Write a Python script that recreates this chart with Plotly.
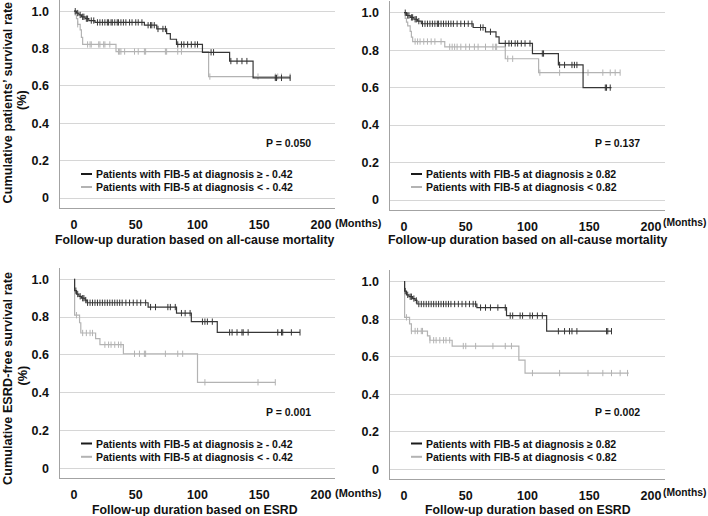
import numpy as np
import plotly.graph_objects as go

# ---------------- data ----------------
# Panel A: all-cause mortality, FIB-5 cut-off -0.42
a_hi_t = [0, 2, 4, 6, 9, 12, 17, 57, 67, 75, 78, 83, 104, 126, 145]
a_hi_s = [1.0, 0.99, 0.98, 0.97, 0.96, 0.95, 0.94, 0.925, 0.905, 0.88, 0.85, 0.822, 0.78, 0.733, 0.643]
a_hi_end = 175
a_hi_c = [1, 3, 5, 7, 8, 10, 11, 14, 16, 19, 21, 23, 25, 27, 28, 30, 31, 33, 35, 36, 38, 40, 42, 45,
          47, 50, 52, 55, 60, 62, 63, 65, 68, 72, 74, 84, 87, 89, 92, 95, 98, 100, 111, 113,
          127, 132, 136, 140, 163, 164, 168, 175]
a_lo_t = [0, 1, 2, 3, 5, 6, 7, 34, 109]
a_lo_s = [1.0, 0.98, 0.96, 0.93, 0.90, 0.86, 0.822, 0.784, 0.65]
a_lo_end = 175
a_lo_c = [3, 11, 13, 14, 20, 21, 24, 25, 29, 36, 37, 38, 41, 49, 52, 57, 58, 74, 75, 84, 87,
          110, 149, 163, 165, 168, 175]

# Panel B: all-cause mortality, FIB-5 cut-off 0.82
b_hi_t = [0, 2, 5, 8, 11, 14, 56, 66, 74.5, 77, 104, 125, 145]
b_hi_s = [1.0, 0.985, 0.975, 0.965, 0.955, 0.941, 0.921, 0.898, 0.871, 0.836, 0.782, 0.721, 0.60]
b_hi_end = 168
b_hi_c = [1, 3, 4, 6, 7, 9, 10, 12, 15, 17, 19, 21, 23, 25, 27, 28, 30, 32, 34, 36, 38, 40, 43,
          46, 49, 52, 55, 62, 64, 70, 82, 85, 87, 90, 92, 95, 98, 102, 112, 113,
          126, 130, 136, 138, 140, 163, 164, 167]
b_lo_t = [0, 1, 2, 3, 5, 6, 7, 33, 82, 109]
b_lo_s = [1.0, 0.97, 0.95, 0.93, 0.90, 0.87, 0.846, 0.818, 0.754, 0.68]
b_lo_end = 175
b_lo_c = [9, 11, 13, 16, 19, 22, 25, 30, 37, 39, 41, 43, 46, 50, 53, 57, 60, 66, 72, 74, 75,
          84, 88, 110, 126, 149, 161, 167, 171, 175]

# Panel C: ESRD, FIB-5 cut-off -0.42
c_hi_t = [0, 0.5, 2, 4, 6, 9, 10.5, 60, 83, 95, 116]
c_hi_s = [1.0, 0.94, 0.922, 0.91, 0.90, 0.89, 0.876, 0.853, 0.821, 0.776, 0.719]
c_hi_end = 183
c_hi_c = [1.5, 3, 5, 7, 8, 9.5, 11, 13, 15, 17, 19, 21, 23, 25, 27, 29, 31, 33, 35, 37, 39, 42,
          45, 48, 51, 54, 58, 62, 66, 76, 78, 82, 87, 90, 94, 104, 106, 108, 112,
          126, 128, 132, 136, 137, 141, 165, 168, 169, 176, 183]
c_lo_t = [0, 0.5, 4.5, 5.5, 17.5, 21, 40, 100]
c_lo_s = [1.0, 0.81, 0.77, 0.716, 0.686, 0.654, 0.606, 0.455]
c_lo_end = 163
c_lo_c = [2, 7, 10, 13, 15, 25, 28, 30, 33, 36, 38, 49, 53, 57, 58, 74, 84, 88, 106, 149, 163]

# Panel D: ESRD, FIB-5 cut-off 0.82
d_hi_t = [0, 0.5, 2, 4, 7, 9, 10.5, 59, 83, 115.5]
d_hi_s = [1.0, 0.95, 0.93, 0.92, 0.91, 0.90, 0.881, 0.862, 0.819, 0.736]
d_hi_end = 168
d_hi_c = [1, 3, 5, 6, 8, 10, 12, 14, 16, 18, 20, 22, 24, 26, 28, 30, 32, 34, 36, 38, 41, 44, 47,
          50, 53, 56, 58, 62, 66, 70, 76, 82, 86, 88, 94, 96, 102, 104, 108, 112,
          125, 130, 134, 136, 140, 164, 165, 168]
d_lo_t = [0, 0.5, 4.5, 6, 19, 21, 39, 93, 98]
d_lo_s = [1.0, 0.81, 0.775, 0.737, 0.711, 0.688, 0.657, 0.582, 0.513]
d_lo_end = 182
d_lo_c = [2, 6, 9, 11, 14, 15, 21, 24, 26, 29, 32, 34, 37, 48, 50, 58, 72, 82, 87,
          104, 126, 149, 161, 168, 175, 181]

x_ticks = [0, 50, 100, 150, 200]
y_ticks = [0, 0.2, 0.4, 0.6, 0.8, 1.0]
y_tick_text = ["0", "0.2", "0.4", "0.6", "0.8", "1.0"]

legend_a = ["Patients with FIB-5 at diagnosis \u2265 - 0.42", "Patients with FIB-5 at diagnosis < - 0.42"]
legend_b = ["Patients with FIB-5 at diagnosis \u2265 0.82", "Patients with FIB-5 at diagnosis < 0.82"]
p_values = ["P = 0.050", "P = 0.137", "P = 0.001", "P = 0.002"]
x_titles = ["Follow-up duration based on all-cause mortality",
            "Follow-up duration based on all-cause mortality",
            "Follow-up duration based on ESRD",
            "Follow-up duration based on ESRD"]
y_titles = ["Cumulative patients\u2019 survival rate", "Cumulative ESRD-free survival rate"]

# ---------------- styling / layout ----------------
W, H = 708, 516
FONT = "Liberation Sans, Arial, Helvetica, sans-serif"
DARK = "#363636"
LIGHT = "#b3b3b3"
GRID = "#d6d6d6"
AXIS = "#a3a3a3"
TXT = "#111111"
XR = [-11, 211]
YR = [-0.052, 1.06]

def px_x(x):
    return x / W

def px_y(y):
    return 1 - y / H

# pixel positions of value 0 / 1.0 (y) and month 0 / 200 (x) for each panel
panels = [
    dict(x0=74, x200=321, y0=198, y1=11.2),
    dict(x0=404, x200=651, y0=200, y1=12.7),
    dict(x0=74, x200=321, y0=468.3, y1=279.3),
    dict(x0=404, x200=651, y0=469.3, y1=281.7),
]

curves = [
    ((a_hi_t, a_hi_s, a_hi_end, a_hi_c), (a_lo_t, a_lo_s, a_lo_end, a_lo_c)),
    ((b_hi_t, b_hi_s, b_hi_end, b_hi_c), (b_lo_t, b_lo_s, b_lo_end, b_lo_c)),
    ((c_hi_t, c_hi_s, c_hi_end, c_hi_c), (c_lo_t, c_lo_s, c_lo_end, c_lo_c)),
    ((d_hi_t, d_hi_s, d_hi_end, d_hi_c), (d_lo_t, d_lo_s, d_lo_end, d_lo_c)),
]

fig = go.Figure()
layout = dict(width=W, height=H, margin=dict(l=0, r=0, t=0, b=0),
              paper_bgcolor="white", plot_bgcolor="white", showlegend=False)
annotations = []
shapes = []

def step_value(t_list, s_list, t):
    idx = np.searchsorted(np.asarray(t_list, float), t, side="right") - 1
    return np.asarray(s_list, float)[idx]

for i, (pn, (hi, lo)) in enumerate(zip(panels, curves)):
    k = "" if i == 0 else str(i + 1)
    xa, ya = "x" + k, "y" + k
    ux = (pn["x200"] - pn["x0"]) / 200.0
    left = pn["x0"] + XR[0] * ux
    right = pn["x0"] + XR[1] * ux
    uy = pn["y0"] - pn["y1"]
    top = pn["y1"] - (YR[1] - 1) * uy
    bot = pn["y0"] - YR[0] * uy
    xdom = [px_x(left), px_x(right)]
    ydom = [max(0, px_y(bot)), min(1, px_y(top))]

    layout["xaxis" + k] = dict(domain=xdom, range=XR, anchor=ya, showgrid=False, zeroline=False,
                               showline=True, linecolor=AXIS, linewidth=1, tickvals=x_ticks,
                               ticks="", ticklabelstandoff=5,
                               tickfont=dict(family=FONT, size=12.5, color=TXT, weight="bold"))
    layout["yaxis" + k] = dict(domain=ydom, range=YR, anchor=xa, showgrid=True, gridcolor=GRID,
                               gridwidth=1, zeroline=False, showline=True, linecolor=AXIS,
                               linewidth=1, tickvals=y_ticks, ticktext=y_tick_text, ticks="",
                               ticklabelstandoff=8,
                               tickfont=dict(family=FONT, size=12.5, color=TXT, weight="bold"))

    # draw the gray curve first, the dark one on top
    for (t, s, end, cens), col in ((lo, LIGHT), (hi, DARK)):
        fig.add_trace(go.Scatter(x=list(t) + [end], y=list(s) + [s[-1]], mode="lines",
                                 line=dict(color=col, width=1.2, shape="hv"),
                                 xaxis=xa, yaxis=ya, hoverinfo="skip"))
        cy = [float(step_value(t, s, c)) for c in cens]
        fig.add_trace(go.Scatter(x=cens, y=cy, mode="markers",
                                 marker=dict(symbol="line-ns", size=4.5,
                                             line=dict(color=col, width=1)),
                                 xaxis=xa, yaxis=ya, hoverinfo="skip"))

    # x-axis title & (Months)
    base_y = 208 if i < 2 else 478
    title_cx = 195 if i % 2 == 0 else 528
    annotations.append(dict(text=x_titles[i], x=px_x(title_cx), y=px_y(base_y + 32),
                            xref="paper", yref="paper", showarrow=False, xanchor="center",
                            yanchor="middle",
                            font=dict(family=FONT, size=12.3, color=TXT, weight="bold")))
    if i % 2 == 0:
        mon = dict(x=px_x(pn["x200"] + 12), xanchor="left", size=11)
    else:
        mon = dict(x=px_x(708), xanchor="right", size=10.3)
    annotations.append(dict(text="(Months)", y=px_y(base_y + 14.5), x=mon["x"],
                            xanchor=mon["xanchor"], xref="paper", yref="paper",
                            showarrow=False, yanchor="middle",
                            font=dict(family=FONT, size=mon["size"], color=TXT, weight="bold")))

    # P value
    p_y = 143 if i < 2 else 412
    p_r = 313 if i % 2 == 0 else 642
    annotations.append(dict(text=p_values[i], x=px_x(p_r), y=px_y(p_y), xref="paper",
                            yref="paper", showarrow=False, xanchor="right", yanchor="middle",
                            font=dict(family=FONT, size=10.5, color=TXT, weight="bold")))

    # legend (manual)
    leg = legend_a if i % 2 == 0 else legend_b
    lx = 81 if i % 2 == 0 else 411
    ly = [174, 187] if i < 2 else [443.5, 456.8]
    for txt, yy, col in ((leg[0], ly[0], "#1a1a1a"), (leg[1], ly[1], LIGHT)):
        shapes.append(dict(type="line", xref="paper", yref="paper",
                           x0=px_x(lx), x1=px_x(lx + 11), y0=px_y(yy), y1=px_y(yy),
                           line=dict(color=col, width=2)))
        annotations.append(dict(text=txt, x=px_x(lx + 12.5), y=px_y(yy), xref="paper",
                                yref="paper", showarrow=False, xanchor="left", yanchor="middle",
                                font=dict(family=FONT, size=10.5, color=TXT, weight="bold")))

# y-axis titles (left column only)
for title, cy in ((y_titles[0], 103), (y_titles[1], 378.5)):
    annotations.append(dict(text=title, x=px_x(7.5), y=px_y(cy), xref="paper", yref="paper",
                            showarrow=False, textangle=-90, xanchor="center", yanchor="middle",
                            font=dict(family=FONT, size=12.7, color=TXT, weight="bold")))
    annotations.append(dict(text="(%)", x=px_x(22), y=px_y(cy - 3), xref="paper", yref="paper",
                            showarrow=False, textangle=-90, xanchor="center", yanchor="middle",
                            font=dict(family=FONT, size=12.7, color=TXT, weight="bold")))

layout["annotations"] = annotations
layout["shapes"] = shapes
fig.update_layout(**layout)
fig.write_html("out.html", config={"displayModeBar": False, "staticPlot": True},
               post_script="document.body.style.margin='0';document.body.style.overflow='hidden';")
